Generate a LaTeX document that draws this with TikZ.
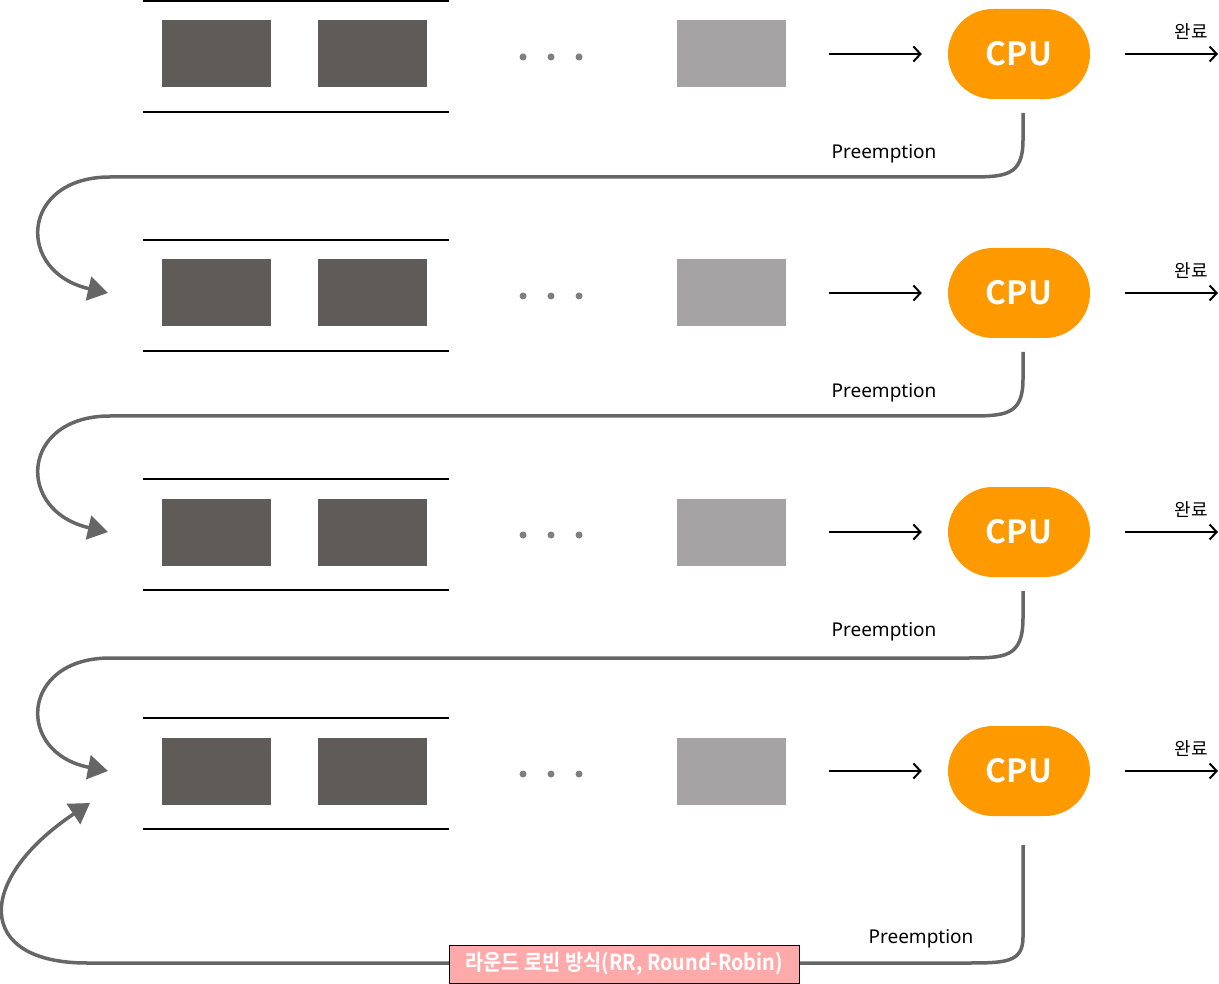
\documentclass[tikz,border=0pt]{standalone}
\usepackage{fontspec}
\setmainfont{Noto Sans CJK KR}[BoldFont={Noto Sans CJK KR Bold}]
\newfontfamily\latfont{Noto Sans}
\usetikzlibrary{arrows.meta}
\definecolor{darkbox}{HTML}{5F5B59}
\definecolor{graybox}{HTML}{A5A3A3}
\definecolor{dotgray}{HTML}{7F7F7F}
\definecolor{cpuorange}{HTML}{FF9900}
\definecolor{conn}{HTML}{666666}
\definecolor{rrpink}{HTML}{FFAAAA}
\tikzset{
  procbox/.style={fill=darkbox, draw=none, minimum width=109pt, minimum height=67pt, inner sep=0pt},
  lastbox/.style={fill=graybox, draw=none, minimum width=109pt, minimum height=67pt, inner sep=0pt},
  qdot/.style={circle, fill=dotgray, minimum size=7pt, inner sep=0pt},
  cpubox/.style={fill=cpuorange, rounded corners=45pt, minimum width=142pt, minimum height=90pt, inner sep=0pt,
    text=white, font=\bfseries\fontsize{32}{32}\selectfont},
  qline/.style={line width=2.5pt, black},
  flow/.style={line width=2pt, black, -{Straight Barb[length=7pt,width=15pt,line width=2pt]}},
  pre/.style={line width=3.5pt, conn, -{Triangle[length=20pt,width=24pt]}},
  prelabel/.style={font=\latfont\fontsize{19}{19}\selectfont, inner sep=0pt},
  donelabel/.style={font=\fontsize{18}{18}\selectfont, inner sep=0pt},
  rrbox/.style={fill=rrpink, draw=black, line width=1pt, minimum width=350pt, minimum height=38pt, inner sep=0pt,
    text=white, font=\bfseries\fontsize{22}{22}\selectfont}
}
\begin{document}
\begin{tikzpicture}[x=1pt,y=-1pt]
\useasboundingbox (0,0) rectangle (1219,984);
\foreach \c [count=\i] in {54,293,532,771} {
  \draw[qline] (143,\c-53) -- (449,\c-53);
  \draw[qline] (143,\c+58) -- (449,\c+58);
  \node[procbox] (pa\i) at (216.5,\c) {};
  \node[procbox] (pb\i) at (372.5,\c) {};
  \node[qdot] (da\i) at (523,\c+3) {};
  \node[qdot] (db\i) at (551,\c+3) {};
  \node[qdot] (dc\i) at (579,\c+3) {};
  \node[lastbox] (pl\i) at (731.5,\c) {};
  \node[cpubox] (cpu\i) at (1019,\c) {CPU};
  \coordinate (in\i) at (829,\c);
  \draw[flow, shorten >=26pt] (in\i) -- (cpu\i.west);
  \coordinate (outa\i) at (1125,\c);
  \coordinate (outb\i) at (1218,\c);
  \draw[flow] (outa\i) -- (outb\i);
  \node[donelabel] (done\i) at (1191,\c-22) {완료};
  \coordinate (tip\i) at (108,\c);
}
% preemption loops rows 1-3
\foreach \c/\h/\n [count=\i] in {54/177/293,293/416/532,532/658/771} {
  \pgfmathtruncatemacro{\j}{\i+1}
  \coordinate (ps\i) at (1023,\c+59);
  \draw[pre] (ps\i) -- (1023,\c+86) .. controls (1023,\h) and (1005,\h) .. (965,\h)
     -- (110,\h) .. controls (20,\h) and (15,\h+95) .. (tip\j);
  \node[prelabel] (pre\i) at (884,\c+100) {Preemption};
}
% final round-robin loop
\coordinate (ps4) at (1023,845);
\coordinate (tipb) at (90,803);
\draw[pre] (ps4) -- (1023,937) .. controls (1023,963) and (1005,963) .. (965,963)
   -- (87,963) .. controls (-25,963) and (-25,880) .. (tipb);
\node[prelabel] (pre4) at (921,939) {Preemption};
\node[rrbox] (rr) at (624,964) {\scalebox{0.9}[1]{라운드 로빈 방식(RR, Round-Robin)}};
\end{tikzpicture}
\end{document}
